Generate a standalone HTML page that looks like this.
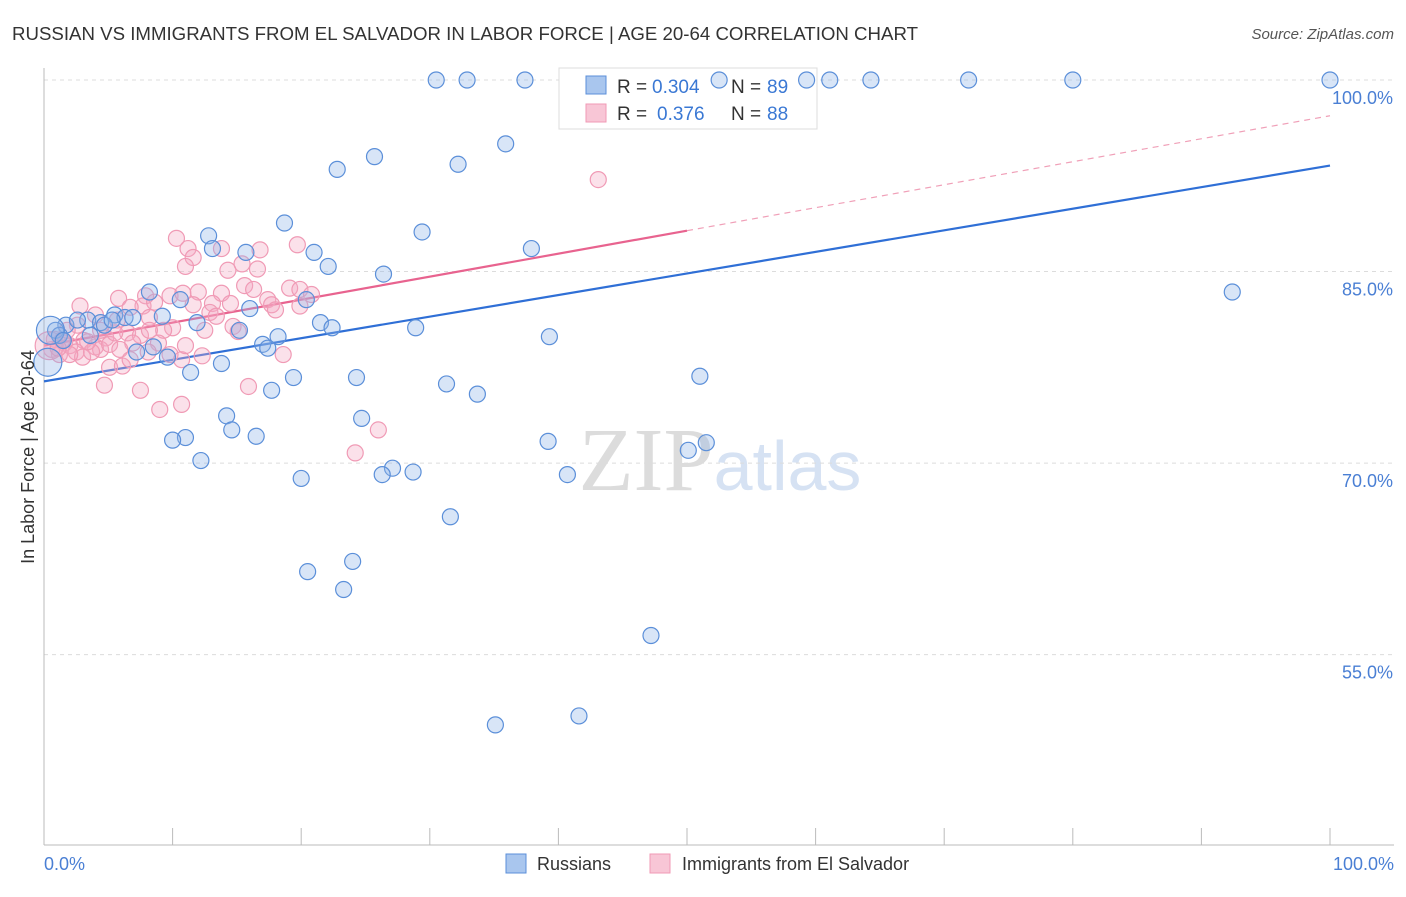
<!DOCTYPE html>
<html><head><meta charset="utf-8"><style>
body{margin:0;background:#fff;font-family:"Liberation Sans",sans-serif;}
svg text{font-family:"Liberation Sans",sans-serif;}
</style></head><body>
<svg id="chart" width="1406" height="892" xmlns="http://www.w3.org/2000/svg">
<text x="12" y="40" font-size="18" fill="#333" textLength="906" lengthAdjust="spacingAndGlyphs">RUSSIAN VS IMMIGRANTS FROM EL SALVADOR IN LABOR FORCE | AGE 20-64 CORRELATION CHART</text>
<text x="1394" y="39" font-size="15" fill="#555" text-anchor="end" font-style="italic">Source: ZipAtlas.com</text>
<text x="720" y="490" font-size="90" fill="#e4e4e4" text-anchor="middle" font-family="Liberation Serif"><tspan font-family="Liberation Serif" fill="#dcdcdc">ZIP</tspan><tspan font-family="Liberation Sans" fill="#d6e2f3" font-size="70">atlas</tspan></text>
<g id="grid"></g><g id="axes"></g>
<g>
<rect x="559" y="68" width="258" height="61" fill="#fff" stroke="#ddd"/>
<rect x="586" y="76" width="20" height="18" fill="#a9c6ee" stroke="#5b8fd9"/>
<rect x="586" y="104" width="20" height="18" fill="#f8c6d6" stroke="#f09ab5"/>
<text x="617" y="93" font-size="19" fill="#333">R =</text>
<text x="652" y="93" font-size="19" fill="#3a78d4">0.304</text>
<text x="731" y="93" font-size="19" fill="#333">N =</text>
<text x="767" y="93" font-size="19" fill="#3a78d4">89</text>
<text x="617" y="120" font-size="19" fill="#333">R =</text>
<text x="657" y="120" font-size="19" fill="#3a78d4">0.376</text>
<text x="731" y="120" font-size="19" fill="#333">N =</text>
<text x="767" y="120" font-size="19" fill="#3a78d4">88</text>
</g>
<g id="lines"></g><g id="pts"></g>
<text transform="translate(34,457) rotate(-90)" font-size="18" fill="#333" text-anchor="middle">In Labor Force | Age 20-64</text>
<g>
<rect x="506" y="854" width="20" height="19" fill="#a9c6ee" stroke="#5b8fd9"/>
<text x="537" y="870" font-size="18" fill="#333">Russians</text>
<rect x="650" y="854" width="20" height="19" fill="#f8c6d6" stroke="#f09ab5"/>
<text x="682" y="870" font-size="18" fill="#333">Immigrants from El Salvador</text>
</g>
</svg>
<script>
const yTicks=[100,85,70,55];
const xTickLabels=["0.0%","100.0%"];
const blueX=[30.5,32.9,37.4,52.5,59.3,61.1,64.3,71.9,80.0,100,35.9,25.7,32.2,22.8,18.7,12.8,29.4,37.9,13.1,15.7,21.0,22.1,26.4,92.4,10.6,8.2,5.5,6.3,6.9,3.4,1.7,0.9,1.2,2.6,4.4,4.7,9.2,11.9,16.0,20.4,21.5,22.4,28.9,39.3,18.2,17.0,17.4,15.2,8.5,7.2,9.6,13.8,11.4,19.4,24.3,31.3,33.7,17.7,51.0,14.2,14.6,24.7,16.5,11.0,10.0,39.2,12.2,51.5,50.1,40.7,27.1,20.0,26.3,28.7,31.6,24.0,20.5,23.3,47.2,41.6,35.1,0.3,0.5,1.5,3.6,5.3];
const blueY=[100,100,100,100,100,100,100,100,100,100,95.0,94.0,93.4,93.0,88.8,87.8,88.1,86.8,86.8,86.5,86.5,85.4,84.8,83.4,82.8,83.4,81.6,81.4,81.4,81.2,80.8,80.4,80.0,81.2,81.0,80.8,81.5,81.0,82.1,82.8,81.0,80.6,80.6,79.9,79.9,79.3,79.0,80.4,79.1,78.7,78.3,77.8,77.1,76.7,76.7,76.2,75.4,75.7,76.8,73.7,72.6,73.5,72.1,72.0,71.8,71.7,70.2,71.6,71.0,69.1,69.6,68.8,69.1,69.3,65.8,62.3,61.5,60.1,56.5,50.2,49.5,77.9,80.4,79.6,80.0,81.2];
const pinkX=[43.1,10.3,11.2,13.8,16.8,19.7,11.6,11.0,14.3,15.4,16.6,9.8,2.8,5.8,7.9,10.8,12.0,13.8,15.6,16.3,19.1,19.9,20.8,13.1,14.5,17.4,17.7,19.9,12.9,13.4,7.7,8.6,6.7,4.0,5.7,8.2,10.0,9.3,6.5,7.5,14.7,15.1,4.8,3.1,0.8,1.6,2.0,4.0,4.4,5.1,6.9,8.9,5.9,8.1,9.8,1.2,2.5,3.0,3.7,0.6,0.4,12.3,18.6,10.7,5.1,6.1,4.7,7.5,15.9,10.7,9.0,26.0,24.2,12.5,11.6,18.0,1.4,2.6,1.8,8.2,4.4,5.5,11.0,6.7,2.0,3.4,1.1];
const pinkY=[92.2,87.6,86.8,86.8,86.7,87.1,86.1,85.4,85.1,85.6,85.2,83.1,82.3,82.9,83.1,83.3,83.4,83.3,83.9,83.6,83.7,83.6,83.2,82.5,82.5,82.8,82.4,82.3,81.8,81.5,82.3,82.6,82.2,81.6,81.2,81.4,80.6,80.4,80.2,80.0,80.7,80.3,79.8,79.6,79.7,79.4,79.2,79.1,78.9,79.3,79.4,79.4,78.9,78.7,78.5,78.5,78.7,78.3,78.7,78.9,79.2,78.4,78.5,78.1,77.5,77.6,76.1,75.7,76.0,74.6,74.2,72.6,70.8,80.4,82.4,82.0,79.6,80.8,80.4,80.4,80.4,80.2,79.2,78.1,78.5,79.5,79.0];
const blueTrend=[76.4,93.3];
const pinkTrend=[79.2,97.2];
const pinkSolidEnd=50;

const NS="http://www.w3.org/2000/svg";
const xs=v=>44+v*12.86;
const ys=v=>80+(100-v)*12.77;
function mk(tag,attrs,parent){const e=document.createElementNS(NS,tag);for(const k in attrs)e.setAttribute(k,attrs[k]);parent.appendChild(e);return e;}
const grid=document.getElementById('grid'),axes=document.getElementById('axes'),lines=document.getElementById('lines'),pts=document.getElementById('pts');
yTicks.forEach(t=>{
  const l=mk('line',{x1:44,x2:1394,y1:ys(t),y2:ys(t),stroke:'#dcdcdc','stroke-dasharray':'4,4'},grid);
  
  
  const tx=mk('text',{x:1393,y:ys(t)+24,'font-size':18,fill:'#4a7fd4','text-anchor':'end'},grid);
  tx.textContent=t.toFixed(1)+'%';
  
  
});
const ax=mk('line',{x1:44,x2:1394,y1:845,y2:845,stroke:'#bbb'},axes);


const ay=mk('line',{x1:44,x2:44,y1:68,y2:845,stroke:'#bbb'},axes);


for(let i=0;i<=10;i++){
  const t=mk('line',{x1:xs(i*10),x2:xs(i*10),y1:828,y2:845,stroke:'#bbb'},axes);
  
  
}
[[0,'start',xTickLabels[0]],[100,'end',xTickLabels[1]]].forEach(([v,a,s])=>{
  const t=mk('text',{x:v===0?xs(v):xs(v)+64,y:870,'font-size':18,fill:'#4a7fd4','text-anchor':a},axes);
  t.textContent=s;
  
  
});
function drawPts(X,Y,fill,stroke,name){
  X.forEach((x,i)=>{
    const r=(x<0.6)?14:8;
    const c=mk('circle',{cx:xs(x),cy:ys(Y[i]),r:r,fill:fill,'fill-opacity':0.35,stroke:stroke,'stroke-width':1.2},pts);
    
    
  });
}
drawPts(pinkX,pinkY,'#f4a9c2','#f09ab5','pink-point');
drawPts(blueX,blueY,'#8fb4e8','#5b8fd9','blue-point');
const bl=mk('line',{x1:xs(0),y1:ys(blueTrend[0]),x2:xs(100),y2:ys(blueTrend[1]),stroke:'#2f6fd6','stroke-width':2.2},lines);


const pe=pinkTrend[0]+(pinkTrend[1]-pinkTrend[0])*pinkSolidEnd/100;
const pl=mk('line',{x1:xs(0),y1:ys(pinkTrend[0]),x2:xs(pinkSolidEnd),y2:ys(pe),stroke:'#e8638f','stroke-width':2.2},lines);


const pd=mk('line',{x1:xs(pinkSolidEnd),y1:ys(pe),x2:xs(100),y2:ys(pinkTrend[1]),stroke:'#f0a0b8','stroke-width':1.2,'stroke-dasharray':'6,5'},lines);


</script>
</body></html>
